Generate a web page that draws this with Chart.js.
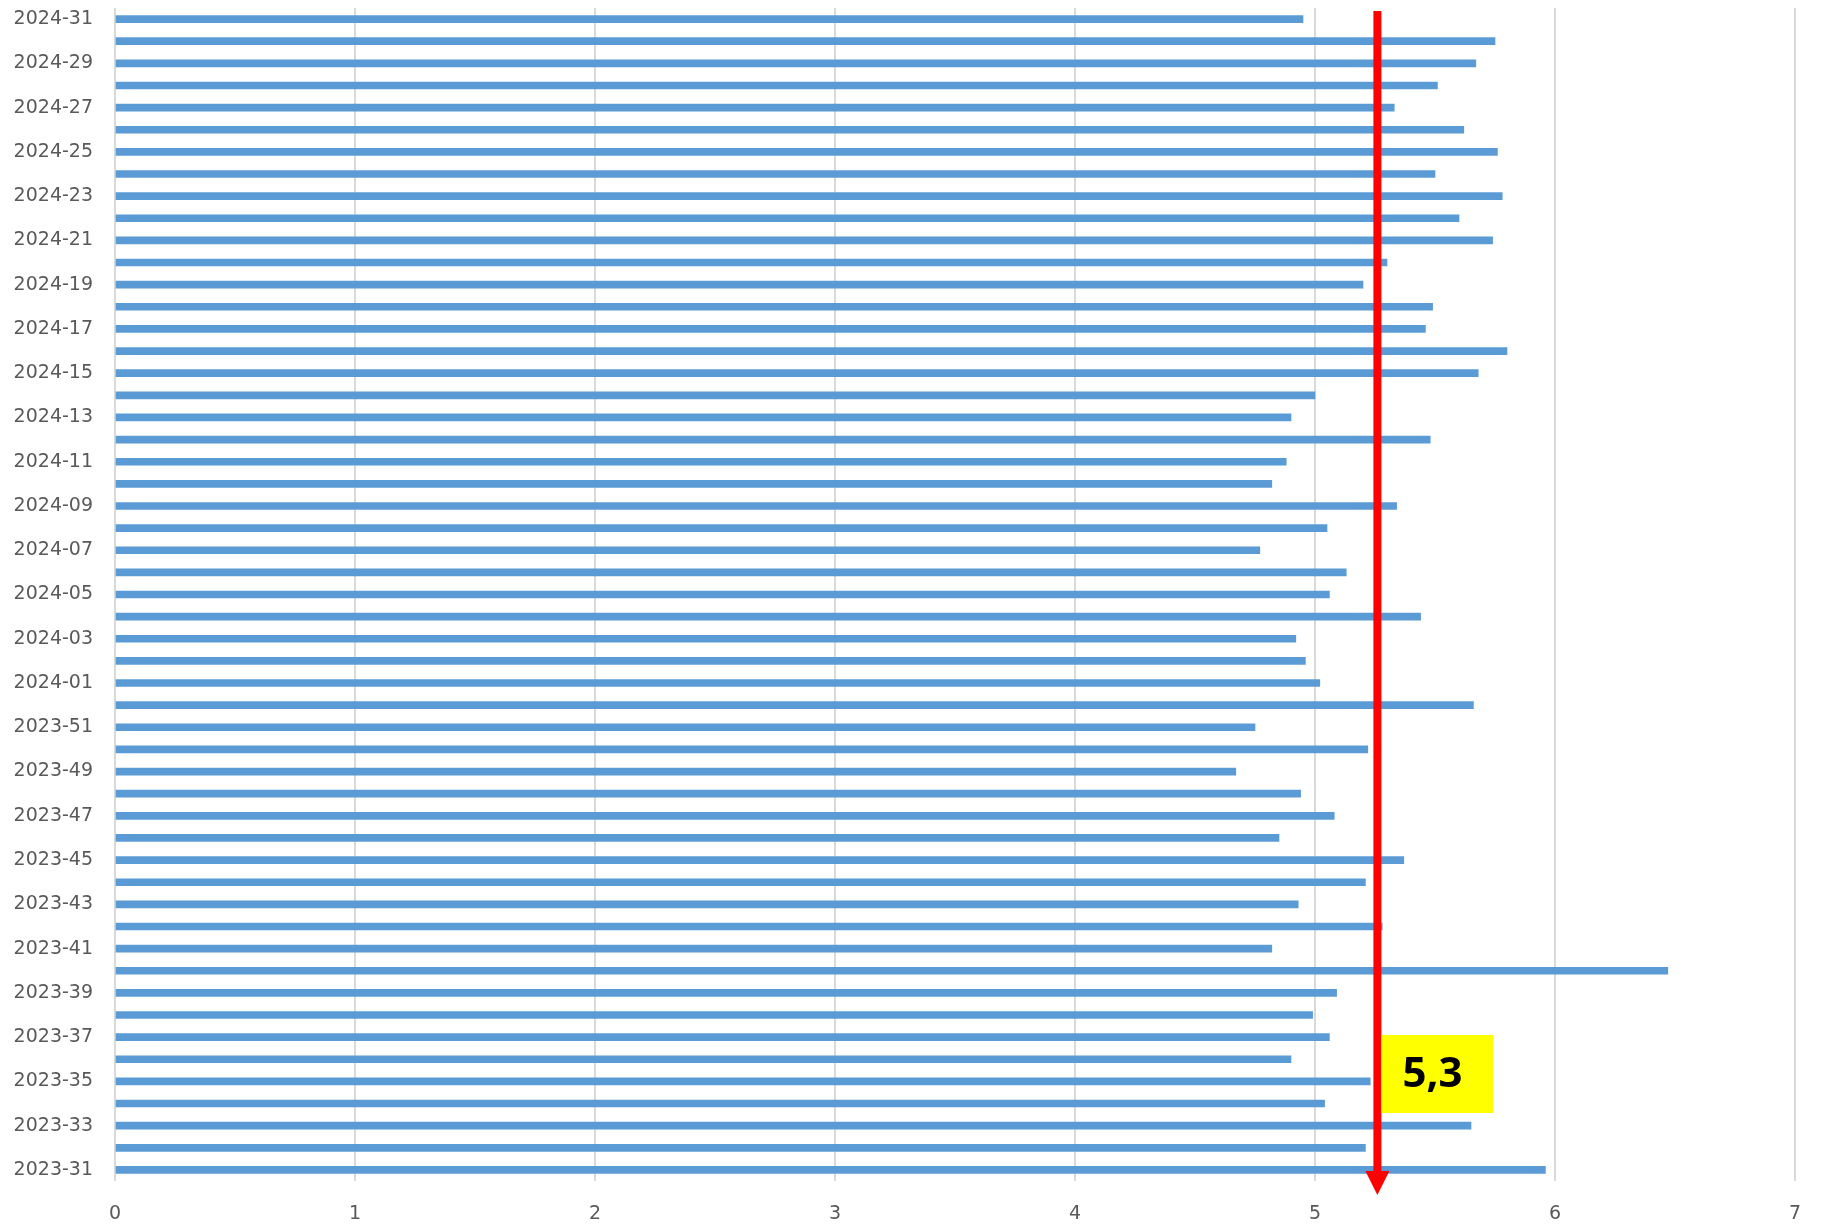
<!DOCTYPE html>
<html>
<head>
<meta charset="utf-8">
<script src="https://cdn.jsdelivr.net/npm/chart.js@4.4.1/dist/chart.umd.min.js"></script>
<style>
  html, body { margin: 0; padding: 0; background: #fff; }
  #wrap { width: 1825px; height: 1225px; position: relative; }
</style>
</head>
<body>
<div id="wrap"><canvas id="chart"></canvas></div>
<script>
// semanas (de abajo hacia arriba)
const weeks = [
  "2023-31", "2023-32", "2023-33", "2023-34", "2023-35", "2023-36", "2023-37", "2023-38",
  "2023-39", "2023-40", "2023-41", "2023-42", "2023-43", "2023-44", "2023-45", "2023-46",
  "2023-47", "2023-48", "2023-49", "2023-50", "2023-51", "2023-52",
  "2024-01", "2024-02", "2024-03", "2024-04", "2024-05", "2024-06", "2024-07", "2024-08",
  "2024-09", "2024-10", "2024-11", "2024-12", "2024-13", "2024-14", "2024-15", "2024-16",
  "2024-17", "2024-18", "2024-19", "2024-20", "2024-21", "2024-22", "2024-23", "2024-24",
  "2024-25", "2024-26", "2024-27", "2024-28", "2024-29", "2024-30", "2024-31"
];

const weeklyValues = [
  5.96, 5.21, 5.65, 5.04, 5.23, 4.90, 5.06, 4.99,
  5.09, 6.47, 4.82, 5.28, 4.93, 5.21, 5.37, 4.85,
  5.08, 4.94, 4.67, 5.22, 4.75, 5.66,
  5.02, 4.96, 4.92, 5.44, 5.06, 5.13, 4.77, 5.05,
  5.34, 4.82, 4.88, 5.48, 4.90, 5.00, 5.68, 5.80,
  5.46, 5.49, 5.20, 5.30, 5.74, 5.60, 5.78, 5.50,
  5.76, 5.62, 5.33, 5.51, 5.67, 5.75, 4.95
];

const xTicks = [0, 1, 2, 3, 4, 5, 6, 7];

// promedio marcado con la flecha roja
const avgValue = 5.26;

// -------- Flecha + etiqueta --------
const avgArrow = {
  id: "avgArrow",
  afterDraw(chart) {
    const { ctx, chartArea, scales } = chart;
    const x = scales.x.getPixelForValue(avgValue);
    const top = chartArea.top + 3;
    const tip = chartArea.bottom + 14;
    const headH = 24, headW = 12;

    ctx.save();
    ctx.fillStyle = "#ff0000";
    ctx.fillRect(x - 4, top, 8, tip - headH - top + 1);
    ctx.beginPath();
    ctx.moveTo(x - headW, tip - headH);
    ctx.lineTo(x + headW, tip - headH);
    ctx.lineTo(x, tip);
    ctx.closePath();
    ctx.fill();

    // caja amarilla con el valor
    const bx = x + 4, by = chartArea.bottom - 146, bw = 112, bh = 78;
    ctx.fillStyle = "#ffff00";
    ctx.fillRect(bx, by, bw, bh);
    ctx.fillStyle = "#000";
    ctx.font = "bold 42px 'Open Sans'";
    ctx.textAlign = "center";
    ctx.textBaseline = "middle";
    ctx.fillText(avgValue.toFixed(1).replace(".", ","), bx + 51, by + bh / 2 + 1);
    ctx.restore();
  }
};

new Chart(document.getElementById("chart"), {
  type: "bar",
  data: {
    labels: weeks,
    datasets: [{
      data: weeklyValues,
      backgroundColor: "#5b9bd5",
      borderWidth: 0,
      barThickness: 7
    }]
  },
  options: {
    indexAxis: "y",
    responsive: true,
    maintainAspectRatio: false,
    animation: false,
    layout: { padding: { left: 0, top: 8, right: 30, bottom: 0 } },
    plugins: { legend: { display: false }, tooltip: { enabled: false } },
    scales: {
      x: {
        min: 0,
        max: 7,
        afterBuildTicks: s => { s.ticks = xTicks.map(v => ({ value: v })); },
        afterFit: s => { s.height = 44; },
        grid: { color: "#d9d9d9", lineWidth: 2, drawTicks: false },
        border: { display: false },
        ticks: {
          color: "#595959",
          padding: 22,
          font: { family: "'DejaVu Sans'", size: 19 }
        }
      },
      y: {
        reverse: true,
        afterFit: s => {
          s.width = 115;
          s.paddingTop = 0;
          s.paddingBottom = 0;
        },
        grid: { display: false, drawTicks: false },
        border: { display: false },
        ticks: {
          autoSkip: false,
          color: "#595959",
          padding: 22,
          font: { family: "'DejaVu Sans'", size: 19 },
          callback: (val, i) => i % 2 === 0 ? weeks[i] : ""
        }
      }
    }
  },
  plugins: [avgArrow]
});
</script>
</body>
</html>
